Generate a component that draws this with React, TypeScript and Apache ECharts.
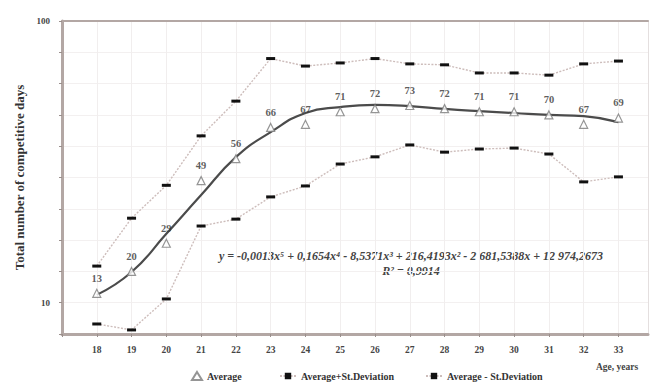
import React, { useEffect, useRef } from "react";
import * as echarts from "echarts";

const ages = [18, 19, 20, 21, 22, 23, 24, 25, 26, 27, 28, 29, 30, 31, 32, 33];
const average = [13, 20, 29, 49, 56, 66, 67, 71, 72, 73, 72, 71, 71, 70, 67, 69];
const upperSD = [21.7, 37, 47.5, 63.3, 74.4, 88, 85.6, 86.6, 88, 86.3, 86, 83.4, 83.4, 82.7, 86.3, 87.2];
const lowerSD = [3.2, 1.3, 11.2, 34.5, 36.7, 43.8, 47.3, 54.3, 56.6, 60.4, 58.1, 59.1, 59.4, 57.5, 48.6, 50.2];
const trend = [12.5, 19.8, 32, 44.4, 56.5, 64.5, 70.6, 72.5, 73.2, 72.8, 71.9, 71.2, 70.6, 70.0, 69.6, 67.7];
const yLabels = [10, 100];
const seriesNames = ["Average", "Average+St.Deviation", "Average - St.Deviation"];
const equation = "y = -0,0013x\u2075 + 0,1654x\u2074 - 8,5371x\u00B3 + 216,4193x\u00B2 - 2 681,5388x + 12 974,2673";
const rSquared = "R\u00B2 = 0,9914";

const FONT = "'Liberation Serif', 'DejaVu Serif', serif";
const AXIS_COLOR = "#b3a7a4";

export default function App() {
  const ref = useRef<HTMLDivElement>(null);
  useEffect(() => {
    if (!ref.current) return;
    const chart = echarts.init(ref.current, undefined, { renderer: "svg" });
    const pairs = (arr: number[]) => ages.map((a, i) => [a, arr[i]]);
    const sdLine = {
      color: "#cdbdbb",
      width: 1.4,
      type: [2, 1.5] as any,
    };
    const eqStyle = {
      fontFamily: FONT,
      fontStyle: "italic",
      fontWeight: "bold",
      fontSize: 12,
      fill: "#444",
      textAlign: "center",
      textVerticalAlign: "middle",
    };
    const legendText = { fontFamily: FONT, fontWeight: "bold", fontSize: 10, color: "#333" };
    const legendLefts = [191, 279, 425];
    chart.setOption({
      animation: false,
      backgroundColor: "#ffffff",
      grid: { left: 62, right: 5, top: 21, bottom: 49, containLabel: false },
      legend: seriesNames.map((n, i) => ({
        left: legendLefts[i],
        top: 371,
        padding: 0,
        itemWidth: i === 0 ? 10 : 16,
        itemHeight: 8,
        itemGap: 4,
        textStyle: legendText,
        data: [n],
      })),
      xAxis: [
        {
          type: "value",
          min: 17,
          max: 33.85,
          interval: 1,
          axisLine: { show: true, lineStyle: { color: AXIS_COLOR, width: 3 } },
          axisTick: { show: true, length: 3, lineStyle: { color: "#9a8f8c" } },
          splitLine: { show: true, lineStyle: { color: "#f1eeee", width: 1 } },
          axisLabel: {
            showMaxLabel: false,
            margin: 11,
            fontFamily: FONT,
            fontWeight: "bold",
            fontSize: 9.5,
            color: "#444",
            formatter: (v: number) => (ages.includes(v) ? String(v) : ""),
          },
        },
        {
          type: "value",
          position: "top",
          min: 17,
          max: 33.85,
          axisLine: { show: true, onZero: false, lineStyle: { color: AXIS_COLOR, width: 2 } },
          axisTick: { show: false },
          axisLabel: { show: false },
          splitLine: { show: false },
        },
      ],
      yAxis: [
        {
          type: "value",
          min: 0,
          max: 100,
          interval: 10,
          name: "Total number of competitive days",
          nameLocation: "middle",
          nameGap: 35,
          nameTextStyle: { fontFamily: FONT, fontWeight: "bold", fontSize: 13, color: "#333" },
          axisLine: { show: true, lineStyle: { color: AXIS_COLOR, width: 3 } },
          axisTick: { show: true, length: 3, lineStyle: { color: "#9a8f8c" } },
          splitLine: { show: true, lineStyle: { color: "#f3f0f0", width: 1 } },
          axisLabel: {
            margin: 12,
            fontFamily: FONT,
            fontWeight: "bold",
            fontSize: 9,
            color: "#444",
            formatter: (v: number) => (yLabels.includes(v) ? String(v) : ""),
          },
        },
        {
          type: "value",
          position: "right",
          min: 0,
          max: 100,
          axisLine: { show: true, lineStyle: { color: "#e4dfdf", width: 1 } },
          axisTick: { show: false },
          axisLabel: { show: false },
          splitLine: { show: false },
        },
      ],
      series: [
        {
          name: seriesNames[1],
          type: "line",
          data: pairs(upperSD),
          symbol: "rect",
          symbolSize: [9, 3],
          itemStyle: { color: "#111" },
          lineStyle: sdLine,
          z: 3,
        },
        {
          name: seriesNames[2],
          type: "line",
          data: pairs(lowerSD),
          symbol: "rect",
          symbolSize: [9, 3],
          itemStyle: { color: "#111" },
          lineStyle: sdLine,
          z: 3,
        },
        {
          name: "Trend",
          type: "line",
          data: pairs(trend),
          smooth: 0.5,
          showSymbol: false,
          symbol: "none",
          lineStyle: { color: "#4b4b4b", width: 2.2 },
          z: 4,
        },
        {
          name: seriesNames[0],
          type: "scatter",
          data: pairs(average),
          symbol: "triangle",
          symbolSize: 8,
          itemStyle: { color: "#ffffff", borderColor: "#7a7a7a", borderWidth: 1.2 },
          label: {
            show: true,
            position: "top",
            distance: 5,
            formatter: (p: any) => String(p.value[1]),
            fontFamily: FONT,
            fontWeight: "bold",
            fontSize: 10.5,
            color: "#333",
          },
          z: 5,
        },
      ],
      graphic: [
        { type: "text", x: 411, y: 256, style: { ...eqStyle, text: equation } },
        { type: "text", x: 411, y: 271, style: { ...eqStyle, text: rSquared } },
        {
          type: "text",
          x: 617,
          y: 367,
          style: {
            text: "Age, years",
            fontFamily: FONT,
            fontWeight: "bold",
            fontSize: 9.5,
            fill: "#444",
            textAlign: "center",
            textVerticalAlign: "middle",
          },
        },
      ],
    });
    return () => chart.dispose();
  }, []);
  return (
    <div
      ref={ref}
      style={{ position: "fixed", left: 0, top: 0, width: 653, height: 383 }}
    />
  );
}
